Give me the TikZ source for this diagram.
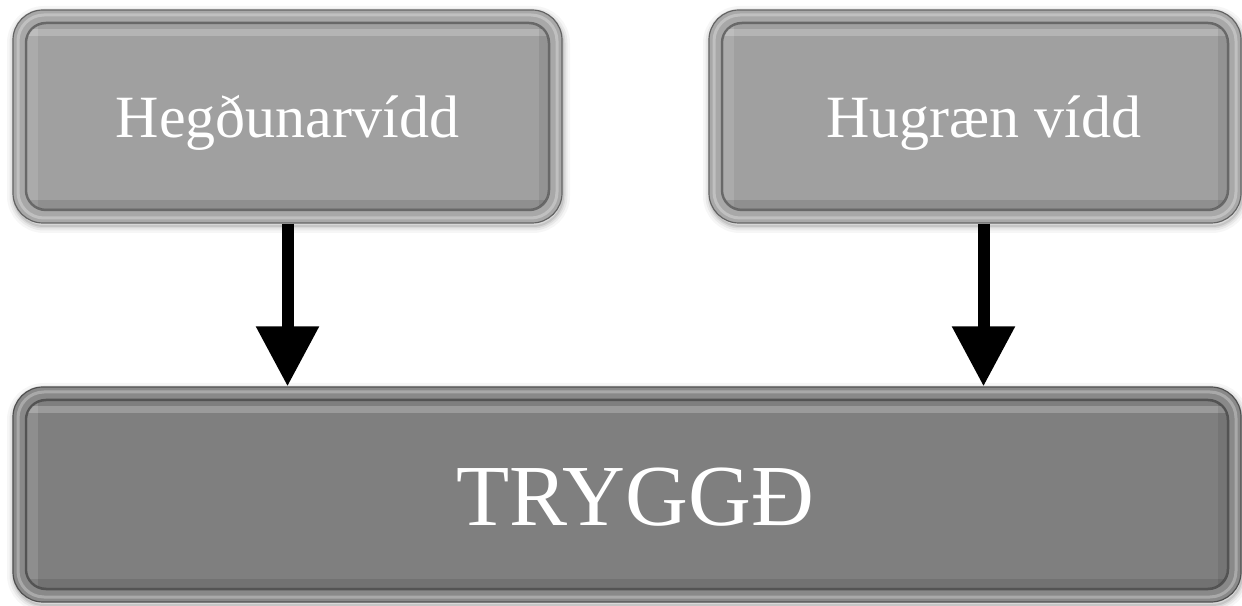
\documentclass[tikz,border=0pt]{standalone}
\usepackage{fontspec}
\setmainfont{Liberation Serif}
\usetikzlibrary{arrows.meta,calc}

\definecolor{lightface}{HTML}{A0A0A0}
\definecolor{darkface}{HTML}{7F7F7F}

\tikzset{
  boxbase/.style={rectangle, rounded corners=30pt, inner sep=0pt, draw=#1!62!black,
    line width=1.2pt, fill=#1!92!white},
  boxtext/.style={text=white, anchor=base, inner sep=0pt},
  flowarrow/.style={line width=12pt, -{Triangle[length=60pt,width=60pt]}},
}

% bevelled panel: name, x1, y1, x2, y2, face colour
\newcommand\bevelpanel[6]{%
  % soft shadow
  \foreach \w/\o in {14/0.035,9/0.05,5/0.07,2/0.09}
    \draw[rounded corners=30pt, line width=\w pt, black, opacity=\o]
      (#2+1,#3-3) rectangle (#4+1,#5-3);
  % outer rim
  \node[boxbase=#6, minimum width={(#4-#2)*1pt}, minimum height={(#5-#3)*1pt}]
    (#1) at ({(#2+#4)/2},{(#3+#5)/2}) {};
  \draw[white, opacity=0.28, line width=3pt, rounded corners=26pt]
    (#2+5,#3+5) rectangle (#4-5,#5-5);
  % inner face with bevel
  \draw[#6!65!black, line width=2.5pt, fill=#6, rounded corners=20pt]
    (#2+13,#3+13) rectangle (#4-13,#5-13);
  \begin{scope}
    \clip[rounded corners=19pt] (#2+14,#3+14) rectangle (#4-14,#5-14);
    \fill[white, opacity=0.22] (#2+14,#5-19) rectangle (#4-14,#5-26);
    \fill[white, opacity=0.12] (#2+14,#3+14) rectangle (#2+25,#5-14);
    \fill[black, opacity=0.08] (#4-23,#3+14) rectangle (#4-14,#5-14);
    \fill[black, opacity=0.10] (#2+14,#3+14) rectangle (#4-14,#3+23);
  \end{scope}
}

\begin{document}
\begin{tikzpicture}[x=1pt,y=1pt]
  \useasboundingbox (0,0) rectangle (1242,605);

  \bevelpanel{behave}{13}{382}{562}{595}{lightface}
  \bevelpanel{mind}{709}{382}{1241}{595}{lightface}
  \bevelpanel{trust}{13}{3}{1241}{218}{darkface}

  \node[boxtext, font=\fontsize{60}{66}\selectfont] (behavetxt) at (287.5,467) {Hegðunarvídd};
  \node[boxtext, font=\fontsize{60}{66}\selectfont] (mindtxt) at (983.5,467) {Hugræn vídd};
  \node[boxtext, font=\fontsize{87}{96}\selectfont] (trusttxt) at (635,79) {TRYGGÐ};

  \draw[flowarrow] (behave.south) -- (behave.south |- trust.north);
  \draw[flowarrow] (mindtxt.base |- mind.south) -- (mindtxt.base |- trust.north);
\end{tikzpicture}
\end{document}
